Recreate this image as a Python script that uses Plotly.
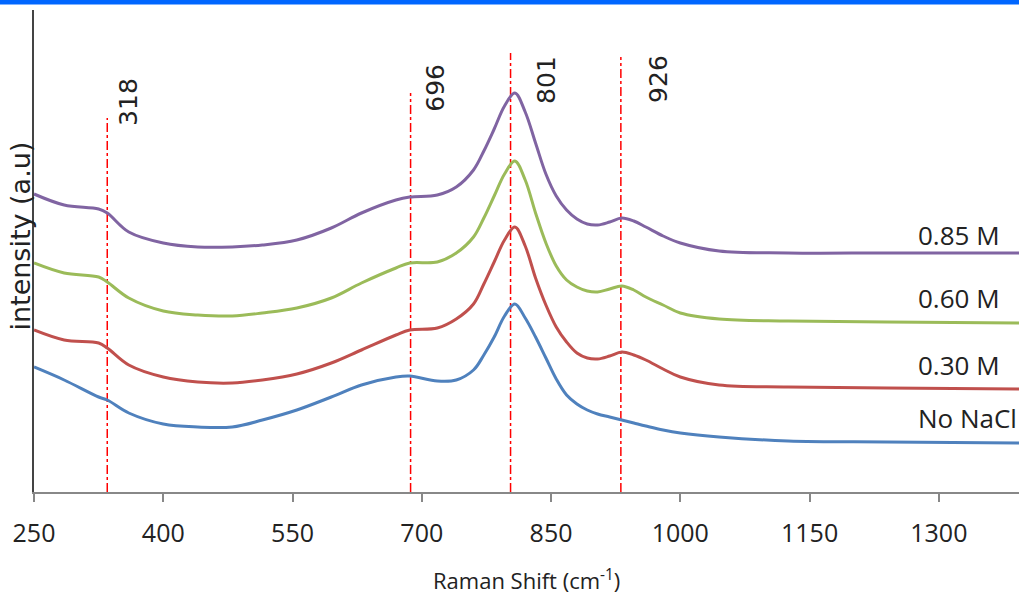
import plotly.graph_objects as go

# Raman shift (cm-1) sample points
raman_shift = [250, 285, 325, 335, 360, 400, 440, 480, 515, 555, 595, 630, 670, 686, 718,
               740, 760, 772, 784, 796, 808, 820, 832, 844, 856, 868, 880, 892, 904, 918,
               932, 946, 960, 980, 1000,
               1045, 1125, 1240, 1393]

# intensity (a.u.), offset-stacked spectra
int_085 = [298, 287, 283, 279, 260, 249, 245, 245, 247, 252, 264, 279, 292, 295, 297,
           305, 322, 341, 363, 386, 399, 380, 349, 318, 296, 282, 273, 268, 267, 270,
           274, 271, 265, 256, 249,
           241, 239, 239, 239]
int_060 = [229, 219, 215, 210, 194, 181, 177, 176, 179, 184, 194, 209, 224, 229, 230,
           239, 255, 274, 296, 318, 331, 312, 279, 249, 226, 212, 205, 201, 200, 203,
           206, 202, 195, 187, 179,
           173, 171, 170, 169]
int_030 = [162, 152, 149, 144, 127, 115, 110, 109, 112, 118, 129, 142, 157, 162, 164,
           173, 188, 208, 230, 252, 265, 246, 214, 187, 165, 150, 139, 134, 133, 136,
           140, 137, 132, 123, 115,
           107, 105, 104, 103]
int_none = [125, 112, 95, 92, 79, 68, 65, 65, 72, 82, 95, 107, 115, 116, 111,
            112, 122, 137, 155, 176, 188, 174, 155, 134, 113, 97, 88, 82, 78, 75,
            72, 69, 66, 62, 59,
            55, 51, 50, 49]

series_names = ["0.85 M", "0.60 M", "0.30 M", "No NaCl"]
series_colors = ["#8064A2", "#9BBB59", "#C0504D", "#4F81BD"]
series_values = [int_085, int_060, int_030, int_none]
label_x = 1273
label_levels = [257, 194, 127, 74]

# peak markers
peak_labels = ["318", "696", "801", "926"]
peak_x = [335, 687, 803, 931]
peak_top = [374, 399, 439, 435]
peak_label_x = [359, 715, 844, 974]
peak_label_y = [390, 404, 412, 413]

x_ticks = [250, 400, 550, 700, 850, 1000, 1150, 1300]

fig = go.Figure()

for name, color, vals in zip(series_names, series_colors, series_values):
    fig.add_trace(go.Scatter(x=raman_shift, y=vals, mode="lines", name=name,
                             line=dict(color=color, width=3, shape="spline", smoothing=1.0),
                             showlegend=False))

shapes = []
for px_, top in zip(peak_x, peak_top):
    shapes.append(dict(type="line", xref="x", yref="y", x0=px_, x1=px_, y0=0, y1=top,
                       line=dict(color="#FF0000", width=1.5, dash="dashdot"), layer="below"))
# blue bar on top of picture
shapes.append(dict(type="rect", xref="paper", yref="paper", x0=-0.05, x1=1.01,
                   y0=1.0115, y1=1.03, fillcolor="#0066FF", line=dict(width=0)))

annotations = []
for lab, lx, ly in zip(peak_labels, peak_label_x, peak_label_y):
    annotations.append(dict(x=lx, y=ly, xref="x", yref="y", text=lab, showarrow=False,
                            textangle=-90, xanchor="center", yanchor="middle",
                            font=dict(family="DejaVu Sans", size=25, color="#222")))
for name, lv in zip(series_names, label_levels):
    annotations.append(dict(x=label_x, y=lv, xref="x", yref="y", text=name, showarrow=False,
                            xanchor="left", yanchor="middle",
                            font=dict(family="Open Sans", size=26, color="#222")))
annotations.append(dict(x=-0.0132, y=0.532, xref="paper", yref="paper",
                        text="intensity (a.u)", showarrow=False, textangle=-90,
                        xanchor="center", yanchor="middle",
                        font=dict(family="DejaVu Sans", size=27, color="#222")))
annotations.append(dict(x=0.5, y=-0.1805, xref="paper", yref="paper",
                        text="Raman Shift (cm<sup>-1</sup>)", showarrow=False,
                        xanchor="center", yanchor="middle",
                        font=dict(family="Open Sans", size=22, color="#222")))

fig.update_layout(
    width=1019, height=595,
    margin=dict(l=34, r=0, t=10, b=103),
    paper_bgcolor="white", plot_bgcolor="white",
    shapes=shapes, annotations=annotations,
    xaxis=dict(range=[250, 1393], tickvals=x_ticks, ticktext=[str(t) for t in x_ticks],
               showgrid=False, zeroline=False, showline=True, linecolor="#888",
               linewidth=2, ticks="outside", ticklen=8, tickwidth=2, tickcolor="#888",
               ticklabelstandoff=10,
               tickfont=dict(family="Open Sans", size=25, color="#222")),
    yaxis=dict(range=[0, 482], showgrid=False, zeroline=False, showline=True,
               linecolor="#444", linewidth=2, showticklabels=False, ticks=""),
)

fig.write_html("out.html", config={"displayModeBar": False},
               post_script="document.body.style.margin='0';document.body.style.overflow='hidden';")
